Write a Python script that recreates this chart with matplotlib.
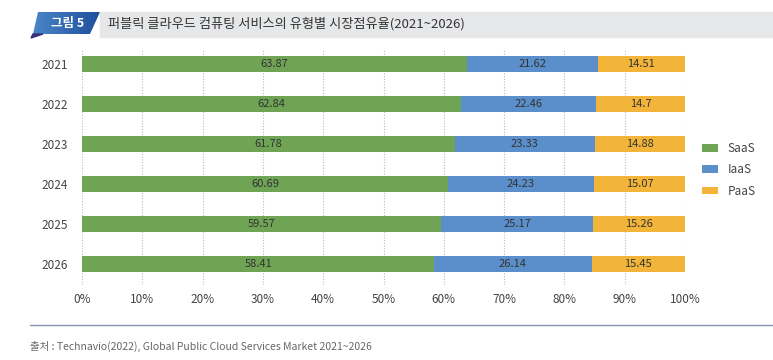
import matplotlib.pyplot as plt
from matplotlib.patches import Polygon, Rectangle
import numpy as np

plt.rcParams['font.family'] = ['Noto Sans CJK KR', 'DejaVu Sans']

years = ['2021', '2022', '2023', '2024', '2025', '2026']
saas = [63.87, 62.84, 61.78, 60.69, 59.57, 58.41]
iaas = [21.62, 22.46, 23.33, 24.23, 25.17, 26.14]
paas = [14.51, 14.7, 14.88, 15.07, 15.26, 15.45]
series = ['SaaS', 'IaaS', 'PaaS']
colors = ['#6fa454', '#5b8fcb', '#f2b53a']
ticks = [0, 10, 20, 30, 40, 50, 60, 70, 80, 90, 100]

W, H = 773, 360
fig = plt.figure(figsize=(W/100, H/100), dpi=100)
ax = fig.add_axes([82/W, 1-285/H, 603/W, 235/H])

y = np.arange(len(years))
left = np.zeros(len(years))
for name, vals, c in zip(series, [saas, iaas, paas], colors):
    bars = ax.barh(y, vals, left=left, height=0.405, color=c, label=name, zorder=3)
    for b, v in zip(bars, vals):
        ax.text(b.get_x() + b.get_width()/2, b.get_y() + b.get_height()/2, str(v),
                ha='center', va='center', fontsize=8, color='#333333', zorder=4)
    left += np.array(vals)

ax.set_xlim(0, 100)
ax.set_ylim(5.52, -0.34)
ax.set_yticks(y)
ax.set_yticklabels(years)
ax.set_xticks(ticks)
ax.set_xticklabels([f'{t}%' for t in ticks])
ax.tick_params(length=0, labelsize=8.5, colors='#444444')
ax.tick_params(axis='x', pad=6)
ax.tick_params(axis='y', pad=10)
for s in ax.spines.values():
    s.set_visible(False)
ax.grid(axis='x', linestyle=(0, (1, 1.5)), color='#bbbbbb', linewidth=0.8, zorder=0)

ax.legend(loc='center left', bbox_to_anchor=(1.01, 0.49), frameon=False, fontsize=8.5,
          handlelength=1.4, handleheight=0.6, labelspacing=0.7, labelcolor='#444444')

# header band
fig.patches.append(Rectangle((100/W, 1-37/H), 673/W, 25/H,
                             transform=fig.transFigure, color='#e6e7e9', zorder=0))
# blue label with gradient
hax = fig.add_axes([0, 0, 1, 1], zorder=-1)
hax.set_xlim(0, W)
hax.set_ylim(H, 0)
hax.axis('off')
grad = np.linspace(0, 1, 64).reshape(1, -1)
img = hax.imshow(grad, extent=(33, 100, 34, 12), cmap=plt.matplotlib.colors.LinearSegmentedColormap.from_list(
    'hb', ['#4a86c8', '#1f4f9c']), aspect='auto', zorder=1)
shape = Polygon([(33, 34), (38, 12), (100, 12), (90, 34)], closed=True, transform=hax.transData,
                facecolor='none', edgecolor='none')
hax.add_patch(shape)
img.set_clip_path(shape)
hax.add_patch(Polygon([(31, 38), (33, 34), (43, 34)], closed=True, color='#3a2f7a', zorder=2))
fig.text(68/W, 1-23/H, '그림 5', color='white', fontsize=9, fontweight='bold',
         ha='center', va='center')
fig.text(108/W, 1-24/H, '퍼블릭 클라우드 컴퓨팅 서비스의 유형별 시장점유율(2021~2026)',
         color='#333333', fontsize=9.5, fontweight='medium', ha='left', va='center')

# footer
fig.add_artist(plt.Line2D([30/W, 1], [1-325/H, 1-325/H], transform=fig.transFigure,
                          color='#8a94b0', linewidth=1))
fig.text(30/W, 1-346/H, '출처 : Technavio(2022), Global Public Cloud Services Market 2021~2026',
         color='#666666', fontsize=7.5, ha='left', va='center')

fig.savefig('out.png', dpi=100)
